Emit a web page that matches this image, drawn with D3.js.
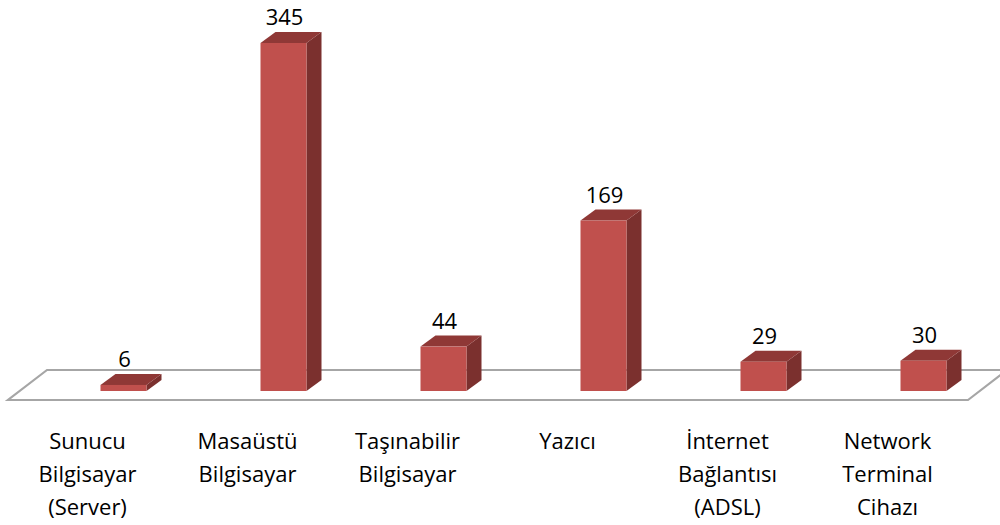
<!DOCTYPE html>
<html>
<head>
<meta charset="utf-8">
<script src="https://cdn.jsdelivr.net/npm/d3@7"></script>
<style>
  body { margin: 0; background: #fff; }
  svg { display: block; }
</style>
</head>
<body>
<svg id="chart" width="1000" height="525"></svg>
<script>
// categories and values
const categories = [
  ["Sunucu", "Bilgisayar", "(Server)"],
  ["Masaüstü", "Bilgisayar"],
  ["Taşınabilir", "Bilgisayar"],
  ["Yazıcı"],
  ["İnternet", "Bağlantısı", "(ADSL)"],
  ["Network", "Terminal", "Cihazı"]
];
const values = [6, 345, 44, 169, 29, 30];

const svg = d3.select("#chart");
const fontFam = "'Open Sans', 'Liberation Sans', sans-serif";

const baseY = 391;     // bottom of the bars' front face
const depthX = 15, depthY = -11; // 3d offset of the bars

const x = d3.scaleBand()
  .domain(d3.range(values.length))
  .range([43.5, 1003.5])
  .paddingInner(0.7125)
  .paddingOuter(0.35625);

const y = d3.scaleLinear().domain([0, 345]).range([baseY, 43]);

// floor
const floor = [[8, 400], [968, 400], [1007, 370], [47, 370]];
svg.append("path")
  .attr("d", "M" + floor.join("L") + "Z")
  .attr("fill", "none")
  .attr("stroke", "#a6a6a6")
  .attr("stroke-width", 2.2);

const bars = svg.selectAll("g.bar")
  .data(values)
  .enter()
  .append("g")
  .attr("class", "bar");

// side
bars.append("path")
  .attr("d", (d, i) => {
    const x1 = x(i) + x.bandwidth();
    return `M${x1},${y(d)}L${x1 + depthX},${y(d) + depthY}L${x1 + depthX},${baseY + depthY}L${x1},${baseY}Z`;
  })
  .attr("fill", "#7b302e");

// top
bars.append("path")
  .attr("d", (d, i) => {
    const x0 = x(i), x1 = x(i) + x.bandwidth();
    return `M${x0},${y(d)}L${x0 + depthX},${y(d) + depthY}L${x1 + depthX},${y(d) + depthY}L${x1},${y(d)}Z`;
  })
  .attr("fill", "#8f3836");

// front
bars.append("rect")
  .attr("x", (d, i) => x(i))
  .attr("y", (d) => y(d))
  .attr("width", x.bandwidth())
  .attr("height", (d) => baseY - y(d))
  .attr("fill", "#c0504d");

// value labels
bars.append("text")
  .attr("x", (d, i) => x(i) + x.bandwidth() / 2 + 1)
  .attr("y", (d) => y(d) + depthY - 7)
  .attr("text-anchor", "middle")
  .attr("font-family", fontFam)
  .attr("font-size", 22)
  .attr("fill", "#000")
  .text((d) => d);

// category labels
const catLabels = svg.selectAll("text.cat")
  .data(categories)
  .enter()
  .append("text")
  .attr("class", "cat")
  .attr("x", (d, i) => x(i) + x.bandwidth() / 2 - 36)
  .attr("y", 449)
  .attr("text-anchor", "middle")
  .attr("font-family", fontFam)
  .attr("font-size", 22)
  .attr("fill", "#000");

catLabels.selectAll("tspan")
  .data((d) => d)
  .enter()
  .append("tspan")
  .attr("x", function () { return d3.select(this.parentNode).attr("x"); })
  .attr("dy", (d, j) => (j === 0 ? 0 : 33))
  .text((d) => d);
</script>
</body>
</html>
